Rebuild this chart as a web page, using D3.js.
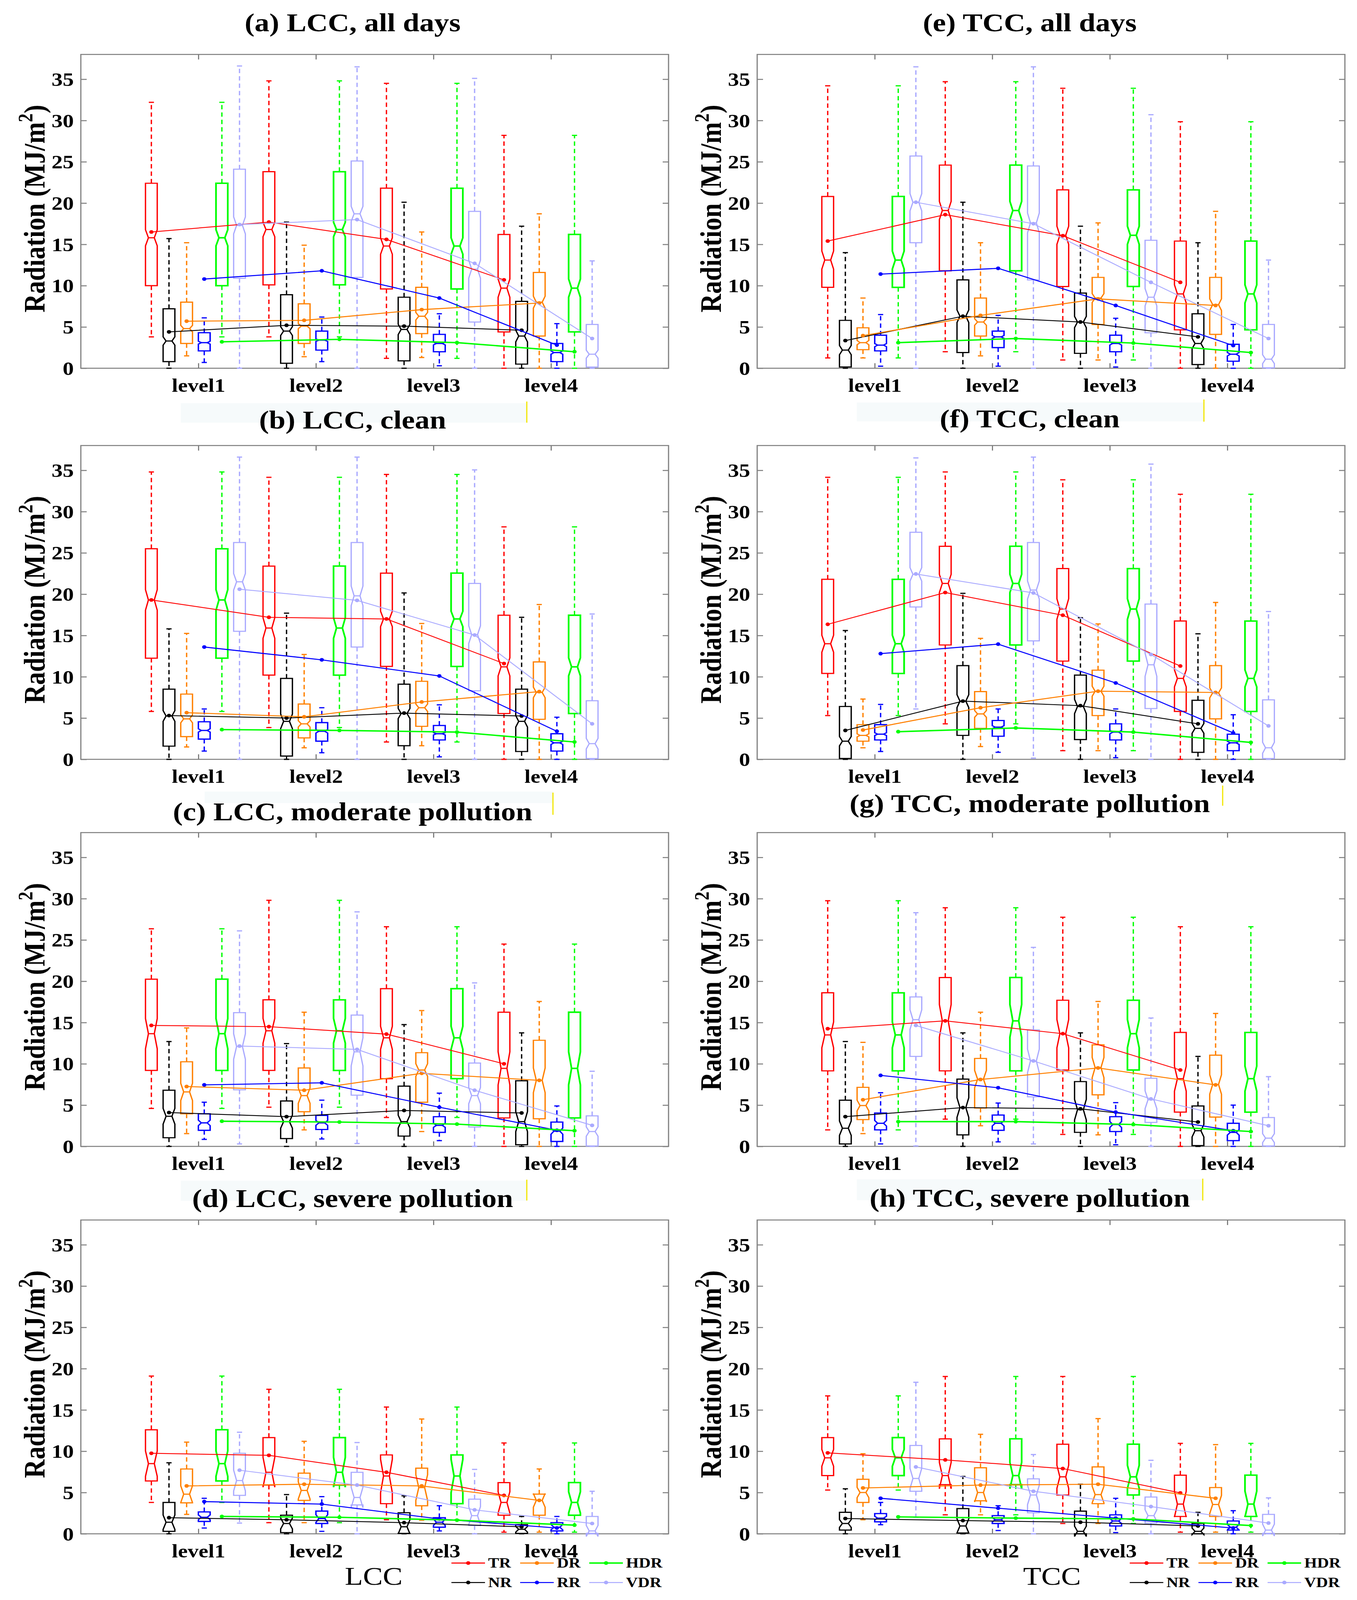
<!DOCTYPE html>
<html>
<head>
<meta charset="utf-8">
<script src="https://cdn.jsdelivr.net/npm/d3@7"></script>
<style>
  html, body { margin: 0; padding: 0; background: #fff; overflow: hidden; width: 100%; height: 100%; }
  svg { display: block; position: absolute; left: 0; top: 0; }
</style>
</head>
<body>
<script>
// ---------------- DATA ----------------
const levels = ["level1", "level2", "level3", "level4"];
const seriesNames = ["TR", "NR", "DR", "RR", "HDR", "VDR"];
const seriesColors = ["#ff0000", "#000000", "#ff8000", "#0000ff", "#00ff00", "#aaaaff"];
const seriesOffsets = [-0.4, -0.25, -0.1, 0.05, 0.2, 0.35];
const yTicks = [0, 5, 10, 15, 20, 25, 30, 35];
const panelTitles = ["(a) LCC, all days", "(b) LCC, clean", "(c) LCC, moderate pollution", "(d) LCC, severe pollution",
                     "(e) TCC, all days", "(f) TCC, clean", "(g) TCC, moderate pollution", "(h) TCC, severe pollution"];
const xLabels = ["LCC", "TCC"];
const legendRows = [["TR", "DR", "HDR"], ["NR", "RR", "VDR"]];

// box statistics: series (TR,NR,DR,RR,HDR,VDR) x level -> [low whisker, q1, median, q3, high whisker]
const boxesA = [
  [[3.8,10.0,15.8,22.4,32.2],[3.8,10.1,16.8,23.8,34.8],[1.2,9.6,14.8,21.8,34.5],[0,4.4,9.7,16.2,28.2]],
  [[0,0.8,3.3,7.2,15.7],[0,0.6,4.5,8.9,17.7],[0,0.9,4.7,8.6,20.1],[0,0.5,3.9,8.1,17.2]],
  [[1.5,3.0,4.8,8.0,15.2],[1.4,3.0,5.1,7.8,14.9],[1.3,4.2,6.3,9.8,16.5],[0,3.9,8.0,11.6,18.7]],
  [[0.7,2.1,3.1,4.3,6.1],[0.8,2.2,3.4,4.5,6.2],[0.3,2.0,3.0,4.1,6.6],[0,0.8,1.9,3.0,5.4]],
  [[3.8,10.0,15.8,22.4,32.2],[3.8,10.1,16.8,23.8,34.8],[1.2,9.6,14.8,21.8,34.5],[0,4.4,9.7,16.2,28.2]],
  [[0,10.9,17.3,24.1,36.6],[0,11.0,18.7,25.1,36.5],[0,5.6,12.0,19.0,35.1],[0,0.15,1.7,5.3,13.0]]
];
const boxesB = [
  [[5.8,12.25,19.3,25.5,34.8],[3.85,10.2,15.9,23.4,34.15],[2.1,11.25,17.0,22.55,34.5],[0,5.55,11.2,17.45,28.15]],
  [[0,1.6,5.25,8.5,15.8],[0,0.4,4.6,9.8,17.7],[0,1.65,5.55,9.1,20.15],[0,0.95,4.6,8.5,17.2]],
  [[1.5,2.75,4.9,7.9,15.25],[1.4,2.6,4.3,6.7,12.7],[1.65,4.0,6.25,9.45,16.45],[0,4.85,8.1,11.8,18.75]],
  [[1.0,2.45,3.5,4.55,6.1],[0.8,2.2,3.4,4.45,6.25],[0.3,2.35,3.1,4.1,6.6],[0,1.0,2.0,3.1,5.1]],
  [[5.8,12.25,19.3,25.5,34.8],[3.85,10.2,15.9,23.4,34.15],[2.1,11.25,17.0,22.55,34.5],[0,5.55,11.2,17.45,28.15]],
  [[0,15.5,21.5,26.25,36.6],[0,13.6,19.8,26.25,36.6],[0,8.3,15.1,21.3,35.05],[0,0.1,1.9,7.1,17.6]]
];
const boxesC = [
  [[4.6,9.2,13.65,20.25,26.35],[4.75,9.2,14.0,17.75,29.8],[3.5,8.2,13.15,19.1,26.6],[0,3.45,9.45,16.25,24.5]],
  [[0,1.05,3.65,6.8,12.7],[0,0.95,3.0,5.5,12.45],[0,1.25,3.0,7.3,14.75],[0,0.2,3.0,7.95,13.75]],
  [[1.55,3.95,6.6,10.25,14.35],[2.0,4.2,6.15,9.5,16.25],[1.8,5.35,9.25,11.35,16.45],[0,3.35,8.0,12.85,17.55]],
  [[0.85,1.95,2.85,3.95,5.35],[0.9,2.05,2.85,3.75,5.6],[0.7,1.7,2.55,3.6,6.45],[0,0.6,1.85,2.95,4.9]],
  [[4.6,9.2,13.65,20.25,26.35],[4.75,9.2,14.0,17.75,29.8],[3.5,8.2,13.15,19.1,26.6],[0,3.45,9.45,16.25,24.5]],
  [[0.3,6.85,12.1,16.2,26.1],[0.35,6.2,11.45,15.9,28.4],[0,2.35,6.15,10.1,19.8],[0,0.05,1.8,3.7,9.1]]
];
const boxesD = [
  [[3.8,6.4,8.5,12.6,19.1],[1.35,5.9,7.45,11.65,17.5],[1.7,3.65,7.0,9.55,15.35],[0.2,2.25,3.8,6.2,11.0]],
  [[0,0.3,1.4,3.8,8.6],[0,0.15,1.25,2.25,4.75],[0,0.05,0.85,2.55,4.6],[0,0.05,0.55,1.1,2.1]],
  [[2.35,3.75,4.8,7.85,11.1],[1.35,4.05,5.25,7.35,11.2],[1.65,3.4,5.6,7.95,13.9],[0.2,2.25,4.05,4.8,7.85]],
  [[0.7,1.5,2.0,2.65,4.3],[0.3,1.25,1.85,2.75,4.5],[0.35,0.8,1.4,1.95,3.4],[0,0.35,0.8,1.35,2.1]],
  [[3.8,6.4,8.5,12.6,19.1],[1.35,5.9,7.45,11.65,17.5],[1.7,3.65,7.0,9.55,15.35],[0.2,2.25,3.8,6.2,11.0]],
  [[1.3,4.65,6.45,9.75,12.3],[0,3.5,4.4,7.45,11.05],[0,1.0,2.2,4.2,7.8],[0,0.05,0.35,2.1,5.15]]
];
const boxesE = [
  [[1.25,9.8,13.1,20.8,34.2],[2.0,11.8,19.1,24.6,34.7],[1.0,9.9,16.1,21.6,33.9],[0,4.65,9.0,15.4,29.85]],
  [[0,0.15,2.2,5.8,14.0],[0,1.9,6.3,10.7,20.1],[0,1.8,5.6,9.1,17.2],[0,0.45,3.0,6.6,15.2]],
  [[1.25,2.25,3.1,4.9,8.5],[1.5,3.9,5.6,8.5,15.2],[1.0,5.3,8.5,11.0,17.6],[0,4.1,7.7,11.0,19.0]],
  [[0.25,2.1,2.8,4.0,6.5],[0.25,2.5,3.8,4.5,6.4],[0.15,2.0,3.0,4.0,6.05],[0,0.85,1.7,2.9,5.3]],
  [[1.25,9.8,13.1,20.8,34.2],[2.0,11.8,19.1,24.6,34.7],[1.0,9.9,16.1,21.6,33.9],[0,4.65,9.0,15.4,29.85]],
  [[0,15.2,20.1,25.7,36.5],[0,10.7,17.6,24.5,36.5],[0,4.3,8.6,15.5,30.7],[0,0.05,1.1,5.3,13.1]]
];
const boxesF = [
  [[5.3,10.4,14.0,21.8,34.15],[4.3,13.85,21.3,25.8,34.8],[1.05,11.9,18.2,23.1,33.85],[0,5.8,9.8,16.75,32.1]],
  [[0,0.1,2.2,6.4,15.6],[0,2.9,7.05,11.35,20.1],[0,2.4,6.4,10.2,17.15],[0,0.85,3.75,7.15,15.2]],
  [[1.4,2.2,2.9,4.2,7.3],[1.55,3.75,5.5,8.2,14.65],[1.05,5.3,8.25,10.8,16.4],[0,4.9,8.05,11.35,19.0]],
  [[0.95,2.35,3.05,4.2,6.65],[0.85,2.8,3.9,4.7,6.1],[0.2,2.35,3.3,4.3,6.1],[0,1.05,2.0,3.05,5.4]],
  [[5.3,10.4,14.0,21.8,34.15],[4.3,13.85,21.3,25.8,34.8],[1.05,11.9,18.2,23.1,33.85],[0,5.8,9.8,16.75,32.1]],
  [[6.1,18.45,22.4,27.5,36.5],[0.15,14.35,20.5,26.25,36.6],[0,6.15,11.45,18.8,35.75],[0,0.1,1.4,7.2,17.9]]
];
const boxesG = [
  [[2.0,9.15,13.5,18.6,29.75],[3.3,9.15,15.2,20.45,28.9],[1.45,9.25,13.65,17.7,27.75],[0,4.15,8.2,13.8,26.6]],
  [[0,0.3,2.2,5.6,12.7],[0,1.4,4.7,8.15,13.75],[0,1.7,4.45,7.85,13.75],[0,0.1,1.9,4.9,10.9]],
  [[1.55,3.25,4.95,7.15,12.6],[2.5,4.65,8.15,10.65,16.25],[1.4,6.25,9.55,12.3,17.55],[0,3.55,7.5,11.05,16.1]],
  [[0.3,2.0,2.8,4.05,6.5],[0.55,1.95,2.8,3.8,5.25],[0.2,1.8,2.65,3.6,5.3],[0,0.7,1.7,2.8,5.0]],
  [[2.0,9.15,13.5,18.6,29.75],[3.3,9.15,15.2,20.45,28.9],[1.45,9.25,13.65,17.7,27.75],[0,4.15,8.2,13.8,26.6]],
  [[0.05,10.9,15.35,18.1,28.3],[0.3,6.0,10.35,14.1,24.1],[0,2.9,5.65,8.25,15.55],[0,0.05,1.0,3.5,8.45]]
];
const boxesH = [
  [[5.3,7.05,9.2,11.65,16.7],[2.3,5.95,7.05,11.5,19.05],[1.25,4.7,6.9,10.85,19.05],[0.2,2.1,3.6,7.1,10.95]],
  [[0,0.45,1.25,2.6,5.45],[0,0.1,0.95,3.05,6.95],[0,0,0.3,2.75,6.0],[0,0,0.3,1.25,2.6]],
  [[1.7,3.8,5.0,6.6,9.7],[2.3,4.0,5.0,8.0,12.05],[1.25,3.65,4.75,8.1,13.95],[0.2,2.1,3.55,5.6,10.8]],
  [[1.1,1.45,1.9,2.45,3.8],[0.4,1.25,1.7,2.2,3.4],[0.15,0.95,1.55,2.3,4.3],[0,0.45,0.8,1.55,2.8]],
  [[5.3,7.05,9.2,11.65,16.7],[2.3,5.95,7.05,11.5,19.05],[1.25,4.7,6.9,10.85,19.05],[0.2,2.1,3.6,7.1,10.95]],
  [[2.0,5.15,6.7,10.7,18.35],[0,2.55,4.7,6.65,9.6],[0,1.3,2.2,4.45,8.9],[0,0.05,0.45,2.35,4.35]]
];

// line values per series (TR,NR,DR,RR,HDR,VDR) x level
const meansA = [[16.5,17.7,15.6,10.7],[4.4,5.2,5.1,4.6],[5.7,5.8,7.1,7.9],[10.8,11.8,8.5,2.8],[3.2,3.5,3.1,2.0],[17.4,18.0,12.7,3.6]];
const meansB = [[19.3,17.2,17.0,11.6],[5.3,5.0,5.6,5.25],[5.65,5.15,6.95,8.2],[13.6,12.05,10.1,3.4],[3.6,3.5,3.3,2.1],[20.6,19.25,15.05,4.3]];
const meansC = [[14.65,14.5,13.6,10.0],[4.1,3.6,4.35,4.05],[7.25,6.8,8.85,8.0],[7.45,7.7,4.75,1.95],[3.05,2.95,2.7,1.9],[12.15,11.75,6.8,2.55]];
const meansD = [[9.75,9.5,7.45,4.65],[1.95,1.7,1.35,0.85],[5.8,6.0,5.8,4.05],[3.9,3.6,1.8,0.7],[2.1,2.0,1.65,1.05],[7.7,5.9,2.9,1.25]];
const meansE = [[15.4,18.6,16.05,10.4],[3.35,6.3,5.6,3.8],[3.95,6.4,8.4,7.6],[11.4,12.1,7.6,2.75],[3.1,3.6,3.05,1.9],[20.1,17.5,10.4,3.6]];
const meansF = [[16.35,20.2,17.45,11.3],[3.5,7.05,6.5,4.3],[3.55,6.25,8.25,8.1],[12.8,13.95,9.25,3.2],[3.35,3.8,3.3,2.05],[22.45,20.15,12.7,4.05]];
const meansG = [[14.25,15.2,13.65,9.25],[3.6,4.7,4.55,2.95],[5.65,8.1,9.5,7.45],[8.6,7.1,4.15,1.9],[3.0,3.0,2.65,1.8],[14.65,10.35,5.75,2.5]];
const meansH = [[9.8,8.95,7.9,4.95],[1.85,1.6,1.4,0.95],[5.55,5.9,6.0,4.3],[4.3,3.1,1.9,0.7],[2.05,1.9,1.8,1.0],[8.1,5.15,3.3,1.3]];

// estimated sample sizes per level (used for notch height 1.57*IQR/sqrt(n))
const sampleSizes = [
  [400, 600, 370, 280], [280, 280, 360, 290], [90, 80, 150, 100], [40, 25, 21, 23],
  [250, 330, 280, 235], [300, 290, 200, 280], [90, 80, 60, 100], [50, 30, 48, 25]
];

const allBoxes = [boxesA, boxesB, boxesC, boxesD, boxesE, boxesF, boxesG, boxesH];
const allMeans = [meansA, meansB, meansC, meansD, meansE, meansF, meansG, meansH];

// ---------------- LAYOUT ----------------
const W = 3475, H = 4762;
const colLeft = [207, 1939];
const plotW = 1505;
const rowTop = [162, 1326, 2478, 3631];
const plotH = 934;
const titleCx = [903, 2637];
const titleBase = [[93, 1275, 2442, 3592], [93, 1272, 2417, 3591]];
const FONT = "'Liberation Serif', 'Times New Roman', Times, serif";
const boxLineW = { TR: 3.4, NR: 3.4, DR: 3.4, RR: 3.6, HDR: 4.4, VDR: 3.2 };
const meanLineW = { TR: 2.6, NR: 2.6, DR: 3.0, RR: 3.0, HDR: 4.2, VDR: 2.6 };

// the drawing is laid out in a 3475 x 4762 frame and fitted to the window
const vw = window.innerWidth || W, vh = window.innerHeight || H;
const svg = d3.select("body").append("svg")
  .attr("width", vw).attr("height", vh)
  .attr("viewBox", `0 0 ${W} ${H}`)
  .attr("preserveAspectRatio", "none");
svg.append("rect").attr("width", W).attr("height", H).attr("fill", "#ffffff");

// faint title backdrops and small yellow marks seen in the original figure
const bands = [[463, 1200, 886, 58], [2194, 1198, 889, 56], [524, 2356, 892, 34], [463, 3514, 886, 60], [2194, 3510, 886, 62]];
svg.selectAll("rect.band").data(bands).join("rect").attr("class", "band")
  .attr("x", d => d[0]).attr("y", d => d[1]).attr("width", d => d[2]).attr("height", d => d[3])
  .attr("fill", "#f6fafb");
const yellowMarks = [[1349, 1195, 1258], [3083, 1189, 1255], [1416, 2359, 2425], [3131, 2338, 2398], [1349, 3511, 3573], [3080, 3508, 3573]];
svg.selectAll("line.ymark").data(yellowMarks).join("line").attr("class", "ymark")
  .attr("x1", d => d[0]).attr("x2", d => d[0]).attr("y1", d => d[1]).attr("y2", d => d[2])
  .attr("stroke", "#f2e600").attr("stroke-width", 3);

allBoxes.forEach((boxes, pi) => {
  const col = pi < 4 ? 0 : 1;
  const row = pi % 4;
  const left = colLeft[col], top = rowTop[row];
  const x = d3.scaleLinear().domain([0, 5]).range([left, left + plotW]);
  const y = d3.scaleLinear().domain([0, 38]).range([top + plotH, top]);
  const g = svg.append("g");

  // title
  g.append("text")
    .attr("x", titleCx[col]).attr("y", titleBase[col][row])
    .attr("text-anchor", "middle")
    .attr("font-family", FONT).attr("font-weight", "bold").attr("font-size", 76)
    .text(panelTitles[pi]);

  // frame
  g.append("rect")
    .attr("x", left).attr("y", top).attr("width", plotW).attr("height", plotH)
    .attr("fill", "none").attr("stroke", "#808080").attr("stroke-width", 3);

  const styleAxis = sel => {
    sel.select(".domain").remove();
    sel.selectAll(".tick line").attr("stroke", "#808080").attr("stroke-width", 3);
    sel.selectAll(".tick text").attr("fill", "#000")
      .attr("font-family", FONT).attr("font-weight", "bold");
  };

  g.append("g").attr("transform", `translate(${left},0)`)
    .call(d3.axisLeft(y).tickValues(yTicks).tickSizeInner(-15).tickSizeOuter(0).tickPadding(18).tickFormat(d3.format("d")))
    .call(styleAxis)
    .call(s => s.selectAll(".tick text").attr("font-size", 57).attr("dy", "0.34em"));
  g.append("g").attr("transform", `translate(${left + plotW},0)`)
    .call(d3.axisRight(y).tickValues(yTicks).tickSizeInner(-15).tickSizeOuter(0).tickFormat(""))
    .call(styleAxis);
  g.append("g").attr("transform", `translate(0,${top + plotH})`)
    .call(d3.axisBottom(x).tickValues([1, 2, 3, 4]).tickSizeInner(-15).tickSizeOuter(0).tickFormat(d => levels[d - 1]))
    .call(styleAxis)
    .call(s => s.selectAll(".tick text").attr("font-size", 56).attr("y", 70).attr("dy", null));
  g.append("g").attr("transform", `translate(0,${top})`)
    .call(d3.axisTop(x).tickValues([1, 2, 3, 4]).tickSizeInner(-15).tickSizeOuter(0).tickFormat(""))
    .call(styleAxis);

  // y label
  const ylab = g.append("text")
    .attr("transform", `translate(${left - 93},${top + plotH / 2 - 8}) rotate(-90)`)
    .attr("text-anchor", "middle")
    .attr("font-family", FONT).attr("font-weight", "bold").attr("font-size", 77);
  ylab.append("tspan").text("Radiation (MJ/m");
  ylab.append("tspan").attr("font-size", 52).attr("dy", -31).text("2");
  ylab.append("tspan").attr("dy", 31).text(")");

  // boxes
  const bw = x(0.1) - x(0);
  const hw = bw / 2;
  const dep = bw * 0.25;
  const capHalf = bw * 0.22;
  const plotArea = g.append("g");
  boxes.forEach((seriesBoxes, si) => {
    const color = seriesColors[si];
    const name = seriesNames[si];
    const sg = plotArea.append("g").attr("stroke", color).attr("fill", "none");
    seriesBoxes.forEach((st, li) => {
      const [lo, q1, med, q3, hi] = st;
      const cx = x(li + 1 + seriesOffsets[si]);
      const notch = 1.57 * (q3 - q1) / Math.sqrt(sampleSizes[pi][li]);
      const nlo = med - notch, nhi = med + notch;
      sg.append("line").attr("x1", cx).attr("x2", cx).attr("y1", y(q3)).attr("y2", y(hi))
        .attr("stroke-width", 3.4).attr("stroke-dasharray", "13,9");
      sg.append("line").attr("x1", cx).attr("x2", cx).attr("y1", y(q1)).attr("y2", y(lo))
        .attr("stroke-width", 3.4).attr("stroke-dasharray", "13,9");
      [hi, lo].forEach(v => {
        sg.append("line").attr("x1", cx - capHalf).attr("x2", cx + capHalf)
          .attr("y1", y(v)).attr("y2", y(v)).attr("stroke-width", 3.6);
      });
      const pts = [
        [cx - hw, y(q1)], [cx - hw, y(nlo)], [cx - hw + dep, y(med)], [cx - hw, y(nhi)], [cx - hw, y(q3)],
        [cx + hw, y(q3)], [cx + hw, y(nhi)], [cx + hw - dep, y(med)], [cx + hw, y(nlo)], [cx + hw, y(q1)]
      ];
      sg.append("path").attr("d", d3.line()(pts) + "Z")
        .attr("stroke-width", boxLineW[name]).attr("stroke-linejoin", "miter");
      sg.append("line").attr("x1", cx - hw + dep).attr("x2", cx + hw - dep)
        .attr("y1", y(med)).attr("y2", y(med)).attr("stroke-width", boxLineW[name]);
    });
  });

  // connecting lines with dots
  const means = allMeans[pi];
  const lineGen = d3.line().x(d => d[0]).y(d => d[1]);
  means.forEach((vals, si) => {
    const pts = vals.map((v, li) => [x(li + 1 + seriesOffsets[si]), y(v)]);
    g.append("path").attr("d", lineGen(pts)).attr("fill", "none")
      .attr("stroke", seriesColors[si]).attr("stroke-width", meanLineW[seriesNames[si]]);
    g.selectAll(null).data(pts).join("circle")
      .attr("cx", d => d[0]).attr("cy", d => d[1]).attr("r", 5.5)
      .attr("fill", seriesColors[si]);
  });

  // bottom row: x label + legend
  if (row === 3) {
    const shift = col === 0 ? 0 : 1737;
    g.append("text")
      .attr("x", 957 + shift).attr("y", 4717)
      .attr("text-anchor", "middle")
      .attr("font-family", FONT).attr("font-size", 76)
      .text(xLabels[col]);
    const lineX = [1156, 1332, 1509];
    const rowY = [4652, 4710];
    legendRows.forEach((names, ri) => {
      names.forEach((nm, ci) => {
        const si = seriesNames.indexOf(nm);
        const x1 = lineX[ci] + shift, x2 = x1 + 86;
        g.append("line").attr("x1", x1).attr("x2", x2).attr("y1", rowY[ri]).attr("y2", rowY[ri])
          .attr("stroke", seriesColors[si]).attr("stroke-width", nm === "HDR" ? 4.2 : 3);
        g.append("circle").attr("cx", (x1 + x2) / 2).attr("cy", rowY[ri]).attr("r", 5.5)
          .attr("fill", seriesColors[si]);
        g.append("text").attr("x", x2 + 8).attr("y", rowY[ri] + 14)
          .attr("font-family", FONT).attr("font-weight", "bold").attr("font-size", 42)
          .text(nm);
      });
    });
  }
});
</script>
</body>
</html>
